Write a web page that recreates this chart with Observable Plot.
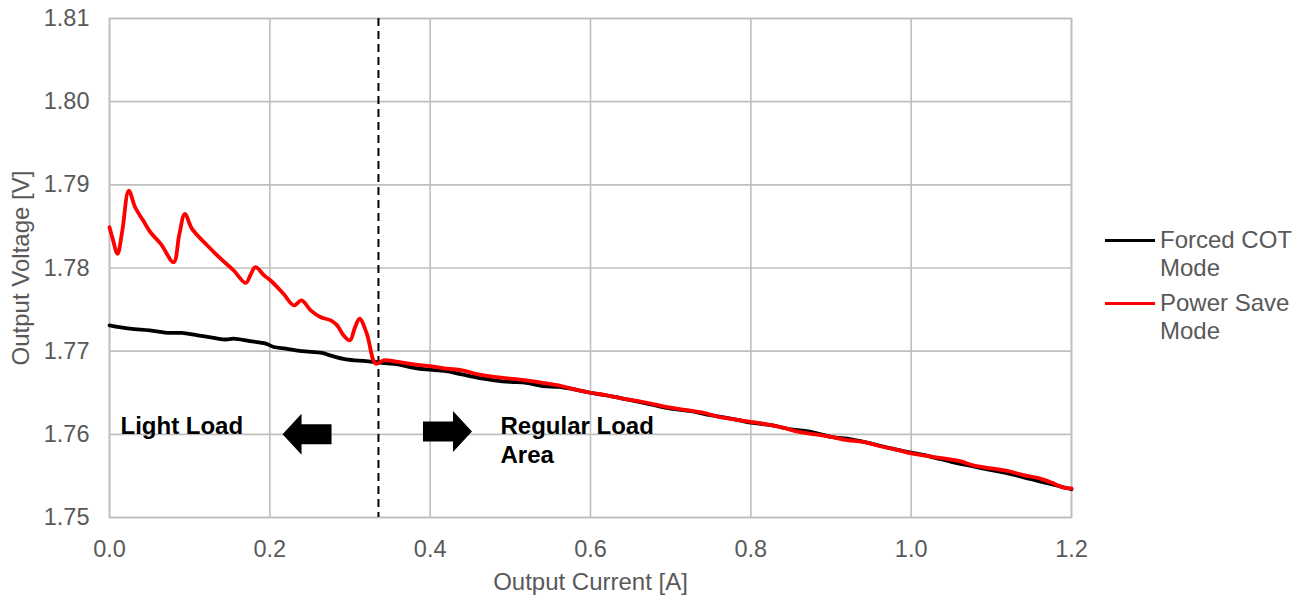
<!DOCTYPE html>
<html>
<head>
<meta charset="utf-8">
<script src="https://cdn.jsdelivr.net/npm/d3@7"></script>
<script src="https://cdn.jsdelivr.net/npm/@observablehq/plot@0.6"></script>
<style>
  html, body { margin: 0; padding: 0; background: #fff; }
  #wrap { position: relative; width: 1309px; height: 600px; font-family: "Liberation Sans", Arial, sans-serif; }
  #legend { position: absolute; left: 1105px; top: 226px; color: #595959; font-size: 24px; line-height: 28px; white-space: nowrap; }
  .item { position: relative; padding-left: 55px; margin-bottom: 7px; }
  .swatch { position: absolute; left: 0; top: 13px; width: 50px; height: 3px; }
</style>
</head>
<body>
<div id="wrap"><div id="chart"></div>
<div id="legend">
  <div class="item"><span class="swatch" style="background:#000"></span>Forced COT<br>Mode</div>
  <div class="item"><span class="swatch" style="background:#ff0000"></span>Power Save<br>Mode</div>
</div></div>
<script>
// ---- Data ----
const forcedX = [0.000,0.025,0.050,0.075,0.090,0.110,0.130,0.145,0.155,0.175,0.195,0.205,0.220,0.240,0.265,0.275,0.295,0.320,0.340,0.360,0.380,0.395,0.420,0.440,0.460,0.480,0.500,0.520,0.540,0.560,0.580,0.600,0.625,0.650,0.675,0.700,0.725,0.750,0.775,0.800,0.825,0.850,0.875,0.900,0.925,0.950,0.975,1.000,1.025,1.050,1.075,1.100,1.125,1.150,1.175,1.200];
const forcedV = [1.7731,1.7727,1.7725,1.7722,1.7722,1.7719,1.7716,1.7714,1.7715,1.7712,1.7709,1.7705,1.7703,1.7700,1.7698,1.7695,1.7690,1.7688,1.7686,1.7684,1.7680,1.7678,1.7676,1.7672,1.7668,1.7665,1.7663,1.7662,1.7658,1.7657,1.7654,1.7650,1.7646,1.7641,1.7636,1.7631,1.7628,1.7623,1.7619,1.7614,1.7611,1.7606,1.7603,1.7597,1.7594,1.7589,1.7583,1.7578,1.7573,1.7567,1.7562,1.7557,1.7552,1.7546,1.7540,1.7534];

const psmX = [0.000,0.004,0.010,0.016,0.024,0.032,0.042,0.051,0.064,0.080,0.087,0.094,0.103,0.122,0.140,0.155,0.170,0.176,0.182,0.193,0.201,0.217,0.230,0.2395,0.251,0.263,0.276,0.284,0.292,0.300,0.306,0.312,0.321,0.332,0.342,0.360,0.380,0.400,0.420,0.440,0.460,0.480,0.500,0.520,0.540,0.560,0.580,0.600,0.620,0.640,0.660,0.680,0.700,0.720,0.740,0.760,0.780,0.800,0.820,0.840,0.860,0.880,0.900,0.920,0.940,0.960,0.980,1.000,1.020,1.040,1.060,1.080,1.100,1.120,1.140,1.160,1.175,1.190,1.200];
const psmV = [1.7849,1.7835,1.7817,1.7845,1.7893,1.7873,1.7857,1.7843,1.7829,1.7807,1.7840,1.7865,1.7847,1.7827,1.7810,1.7797,1.7782,1.7792,1.7801,1.7791,1.7785,1.7769,1.7755,1.7761,1.7749,1.7741,1.7737,1.7731,1.7719,1.7713,1.7728,1.7739,1.7721,1.7685,1.7689,1.7687,1.7684,1.7682,1.7679,1.7677,1.7672,1.7669,1.7667,1.7665,1.7662,1.7659,1.7654,1.7650,1.7647,1.7643,1.7640,1.7636,1.7632,1.7629,1.7626,1.7621,1.7618,1.7615,1.7612,1.7608,1.7603,1.7600,1.7597,1.7593,1.7591,1.7586,1.7582,1.7577,1.7574,1.7571,1.7568,1.7562,1.7559,1.7556,1.7551,1.7547,1.7542,1.7536,1.7535];

const xTicks = [0.0, 0.2, 0.4, 0.6, 0.8, 1.0, 1.2];
const yTicks = [1.75, 1.76, 1.77, 1.78, 1.79, 1.80, 1.81];
const boundaryX = [0.3355];
const annotX = [0.0137, 0.4877];
const annotY = [1.7612, 1.7612];
const annotText = ["Light Load", "Regular Load\nArea"];
const arrowX = [0.2464, 0.4216];
const arrowY = [1.7600, 1.76034];
const arrowDir = ["left", "right"];

const forced = forcedX.map((x, i) => ({x, v: forcedV[i]}));
const psm = psmX.map((x, i) => ({x, v: psmV[i]}));
const annots = annotX.map((x, i) => ({x, y: annotY[i], t: annotText[i]}));
const arrows = arrowX.map((x, i) => ({x, y: arrowY[i], d: arrowDir[i]}));

// Block arrow symbols (pixel-sized shapes)
function blockArrow(sign) {
  return {
    draw(ctx) {
      const L = 24.5, hb = 10, hh = 20.5, head = 19;
      ctx.moveTo(sign * L, 0);
      ctx.lineTo(sign * (L - head), -hh);
      ctx.lineTo(sign * (L - head), -hb);
      ctx.lineTo(-sign * L, -hb);
      ctx.lineTo(-sign * L, hb);
      ctx.lineTo(sign * (L - head), hb);
      ctx.lineTo(sign * (L - head), hh);
      ctx.closePath();
    }
  };
}
const leftArrow = blockArrow(-1), rightArrow = blockArrow(1);

const font = '"Liberation Sans", Arial, sans-serif';
const chart = Plot.plot({
  width: 1309,
  height: 600,
  marginLeft: 109,
  marginRight: 238,
  marginTop: 18,
  marginBottom: 83,
  style: {fontFamily: font, background: "#fff", color: "#595959"},
  x: {domain: [0, 1.2], ticks: xTicks},
  y: {domain: [1.75, 1.81], ticks: yTicks},
  marks: [
    Plot.gridX(xTicks, {stroke: "#bfbfbf", strokeOpacity: 1, strokeWidth: 1.6}),
    Plot.gridY(yTicks, {stroke: "#bfbfbf", strokeOpacity: 1, strokeWidth: 1.6}),
    Plot.frame({stroke: "#bfbfbf", strokeWidth: 1.6}),
    Plot.axisX(xTicks, {tickSize: 0, tickPadding: 23, tickFormat: d => d.toFixed(1), fontSize: 23.5, fill: "#595959", label: null}),
    Plot.axisY(yTicks, {tickSize: 0, tickPadding: 20, tickFormat: d => d.toFixed(2), fontSize: 23.5, fill: "#595959", label: null}),
    Plot.text(["Output Current [A]"], {frameAnchor: "bottom", lineAnchor: "middle", textAnchor: "middle", dy: 65, fontSize: 24, fill: "#595959"}),
    Plot.text(["Output Voltage [V]"], {frameAnchor: "left", lineAnchor: "middle", textAnchor: "middle", dx: -88, rotate: -90, fontSize: 24, fill: "#595959"}),
    Plot.ruleX(boundaryX, {stroke: "#000", strokeWidth: 2, strokeDasharray: "8,5"}),
    Plot.line(forced, {x: "x", y: "v", stroke: "#000", strokeWidth: 3.8, curve: "catmull-rom"}),
    Plot.line(psm, {x: "x", y: "v", stroke: "#ff0000", strokeWidth: 3.8, curve: "catmull-rom"}),
    Plot.text(annots, {x: "x", y: "y", text: "t", textAnchor: "start", lineAnchor: "top", dy: -11, lineHeight: 1.22, fontSize: 24, fontWeight: "bold", fill: "#000"}),
    Plot.dot(arrows.filter(d => d.d === "left"), {x: "x", y: "y", symbol: leftArrow, fill: "#000", stroke: "none", r: 5}),
    Plot.dot(arrows.filter(d => d.d === "right"), {x: "x", y: "y", symbol: rightArrow, fill: "#000", stroke: "none", r: 5})
  ]
});
document.getElementById("chart").appendChild(chart);
</script>
</body>
</html>
